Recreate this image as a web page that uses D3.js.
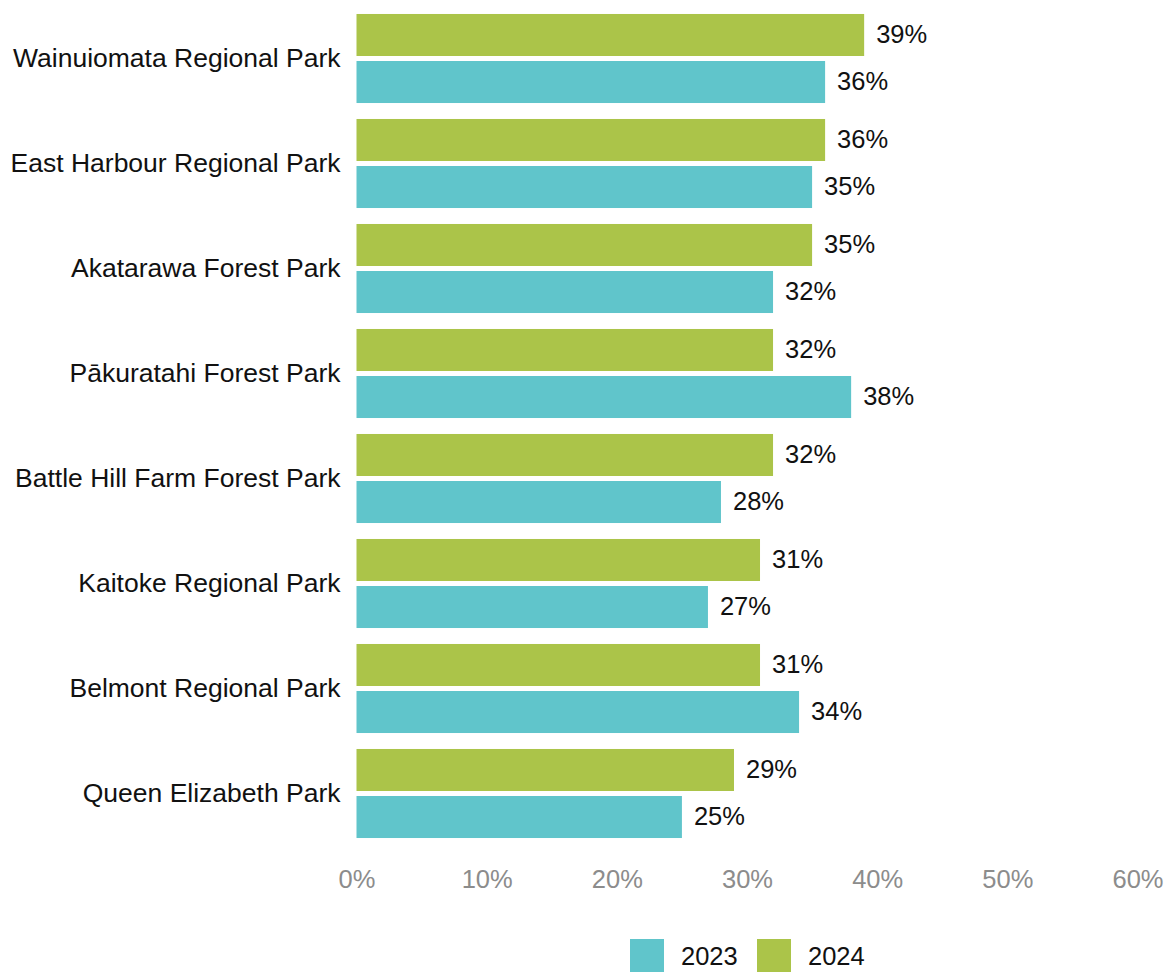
<!DOCTYPE html>
<html><head><meta charset="utf-8">
<script src="https://cdn.jsdelivr.net/npm/d3@7"></script>
<style>body{margin:0;background:#fff}svg{display:block}text{font-family:"Liberation Sans",Arial,sans-serif}</style>
</head><body><svg id="c" width="1170" height="972"></svg>
<script>
const categories = ["Wainuiomata Regional Park","East Harbour Regional Park","Akatarawa Forest Park","Pākuratahi Forest Park","Battle Hill Farm Forest Park","Kaitoke Regional Park","Belmont Regional Park","Queen Elizabeth Park"];
const values2024 = [39,36,35,32,32,31,31,29];
const values2023 = [36,35,32,38,28,27,34,25];
const seriesNames = ["2024","2023"];
const legendOrder = ["2023","2024"];
const xTicks = [0,10,20,30,40,50,60];
const colors = {"2023":"#60c5cb","2024":"#abc449"};

const svg = d3.select("#c");
const x = d3.scaleLinear().domain([0,60]).range([356.5,1137.5]);
const y = d3.scaleBand().domain(categories).range([6,846]).paddingInner(0.152).paddingOuter(0.076);
const ySub = d3.scaleBand().domain(seriesNames).range([0,y.bandwidth()]).paddingInner(5/47).paddingOuter(0);

const data = categories.map((c,i)=>({cat:c, vals:{"2024":values2024[i],"2023":values2023[i]}}));

const g = svg.append("g");
const groups = g.selectAll("g.grp").data(data).join("g").attr("transform",d=>`translate(0,${y(d.cat)})`);
groups.selectAll("rect").data(d=>seriesNames.map(s=>({s,v:d.vals[s]}))).join("rect")
  .attr("x",x(0)).attr("y",d=>ySub(d.s)).attr("width",d=>x(d.v)-x(0)).attr("height",ySub.bandwidth())
  .attr("fill",d=>colors[d.s]);
groups.selectAll("text.val").data(d=>seriesNames.map(s=>({s,v:d.vals[s]}))).join("text")
  .attr("class","val").attr("x",d=>x(d.v)+12).attr("y",d=>ySub(d.s)+ySub.bandwidth()/2)
  .attr("dy","0.33em").attr("font-size",25.5).attr("fill","#111").text(d=>d.v+"%");

// category axis
const yAxis = d3.axisLeft(y).tickSize(0).tickPadding(16);
const ya = svg.append("g").attr("transform",`translate(${x(0)},0)`).call(yAxis);
ya.select(".domain").remove();
ya.selectAll("text").attr("font-size",26.5).attr("fill","#111").attr("font-family","Liberation Sans, Arial, sans-serif");

// x axis
const xAxis = d3.axisBottom(x).tickValues(xTicks).tickFormat(d=>d+"%").tickSize(0).tickPadding(0);
const xa = svg.append("g").attr("transform","translate(0,870)").call(xAxis);
xa.select(".domain").remove();
xa.selectAll("text").attr("font-size",25.5).attr("fill","#8c8c8c").attr("font-family","Liberation Sans, Arial, sans-serif");

// legend
const legX = {"2023":630,"2024":757};
const leg = svg.append("g");
legendOrder.forEach(s=>{
  leg.append("rect").attr("x",legX[s]).attr("y",939).attr("width",34).attr("height",34).attr("fill",colors[s]);
  leg.append("text").attr("x",legX[s]+51).attr("y",965).attr("font-size",25.5).attr("fill","#111").text(s);
});
</script></body></html>
